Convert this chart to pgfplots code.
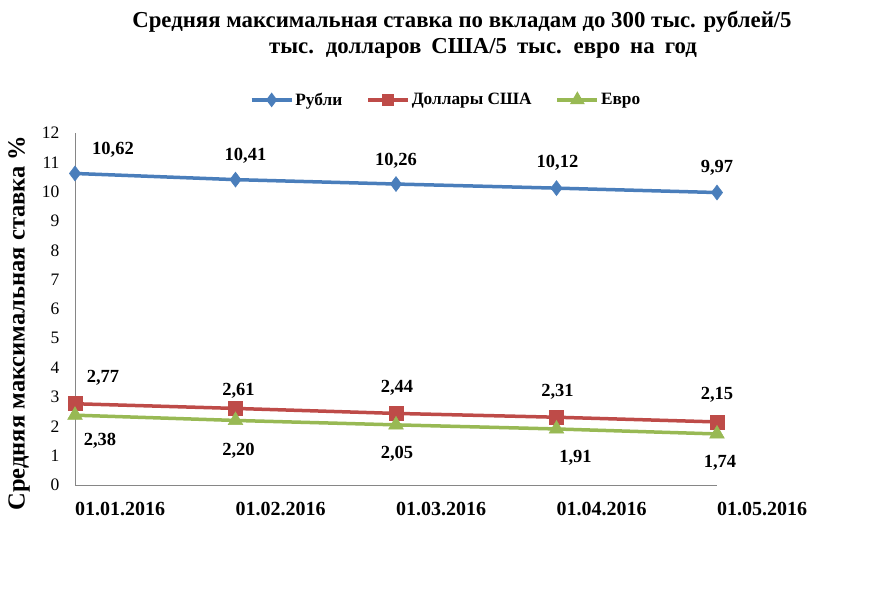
\documentclass[border=0pt]{standalone}
\usepackage{fontspec}
\setmainfont{Liberation Serif}
\usepackage{pgfplots}
\usepackage{pgfplotstable}
\pgfplotsset{compat=1.18}
\definecolor{cblue}{HTML}{4A7EBB}
\definecolor{cred}{HTML}{BE4B48}
\definecolor{cgreen}{HTML}{98B954}
\definecolor{caxis}{HTML}{868686}
\pgfplotstableread{
x y lab dx dy
0 10.62 10,62 38 24
1 10.41 10,41 10 24
2 10.26 10,26 0 23
3 10.12 10,12 1 25
4 9.97 9,97 0 25
}\rub
\pgfplotstableread{
x y lab dx dy
0 2.77 2,77 28 26
1 2.61 2,61 3 18
2 2.44 2,44 1 26
3 2.31 2,31 1 25
4 2.15 2,15 0 27
}\usd
\pgfplotstableread{
x y lab dx dy
0 2.38 2,38 25 -26
1 2.20 2,20 3 -30
2 2.05 2,05 1 -29
3 1.91 1,91 19 -29
4 1.74 1,74 3 -29
}\eur
\begin{document}
\begin{tikzpicture}[x=1pt,y=1pt]
\fill[white] (0,0) rectangle (886,612);
\begin{axis}[
  at={(75pt,127pt)}, anchor=south west,
  scale only axis, width=642pt, height=352pt,
  xmin=0, xmax=4, ymin=0, ymax=12,
  clip=false,
  axis x line*=bottom, axis y line*=left,
  axis line style={draw=caxis, line width=0.8pt, -},
  major tick length=0pt,
  xtick={0,1,2,3,4},
  xticklabels={01.01.2016,01.02.2016,01.03.2016,01.04.2016,01.05.2016},
  xticklabel style={font=\bfseries\fontsize{20}{22}\selectfont, anchor=north west, inner sep=0pt, yshift=-17pt},
  ytick={0,1,...,12},
  yticklabel style={font=\fontsize{17.5}{20}\selectfont, xshift=-12pt},
  /pgf/number format/assume math mode=true,
  legend style={draw=none, fill=none, at={(0.578,1.094)}, anchor=center,
    legend columns=3, font=\bfseries\fontsize{17.3}{20}\selectfont,
    /tikz/every even column/.append style={column sep=22pt},
    legend cell align=left},
  legend image code/.code={\draw[mark repeat=2,mark phase=2,#1,mark options={scale=0.6}] plot coordinates {(0pt,0pt) (20pt,0pt) (40pt,0pt)};},
  every axis plot/.append style={line width=3.5pt},
  point meta=explicit symbolic,
  nodes near coords,
  visualization depends on={\thisrow{dx}\as\dx},
  visualization depends on={\thisrow{dy}\as\dy},
  nodes near coords style={font=\bfseries\fontsize{18.5}{21}\selectfont, text=black, anchor=center, xshift=\dx pt, yshift=\dy pt},
]
\addplot[color=cblue, mark=diamond*, mark size=7.5pt, mark options={line width=0.5pt}] table[x=x,y=y,meta=lab]{\rub};
\addlegendentry{Рубли}
\addplot[color=cred, mark=square*, mark size=7pt, mark options={line width=0.5pt}] table[x=x,y=y,meta=lab]{\usd};
\addlegendentry{Доллары США}
\addplot[color=cgreen, mark=triangle*, mark size=8.5pt, mark options={line width=0.5pt}] table[x=x,y=y,meta=lab]{\eur};
\addlegendentry{Евро}
\end{axis}
\node[font=\bfseries\fontsize{22.8}{26}\selectfont, inner sep=0pt] at (462,590) {Средняя максимальная ставка по вкладам до 300 тыс. рублей/5};
\node[font=\bfseries\fontsize{22.8}{26}\selectfont, inner sep=0pt] at (483,564) {\spaceskip=10pt\relax тыс. долларов США/5 тыс. евро на год};
\node[font=\bfseries\fontsize{24.5}{28}\selectfont, rotate=90, inner sep=0pt] at (19,289) {Средняя максимальная ставка \%};
\end{tikzpicture}
\end{document}
